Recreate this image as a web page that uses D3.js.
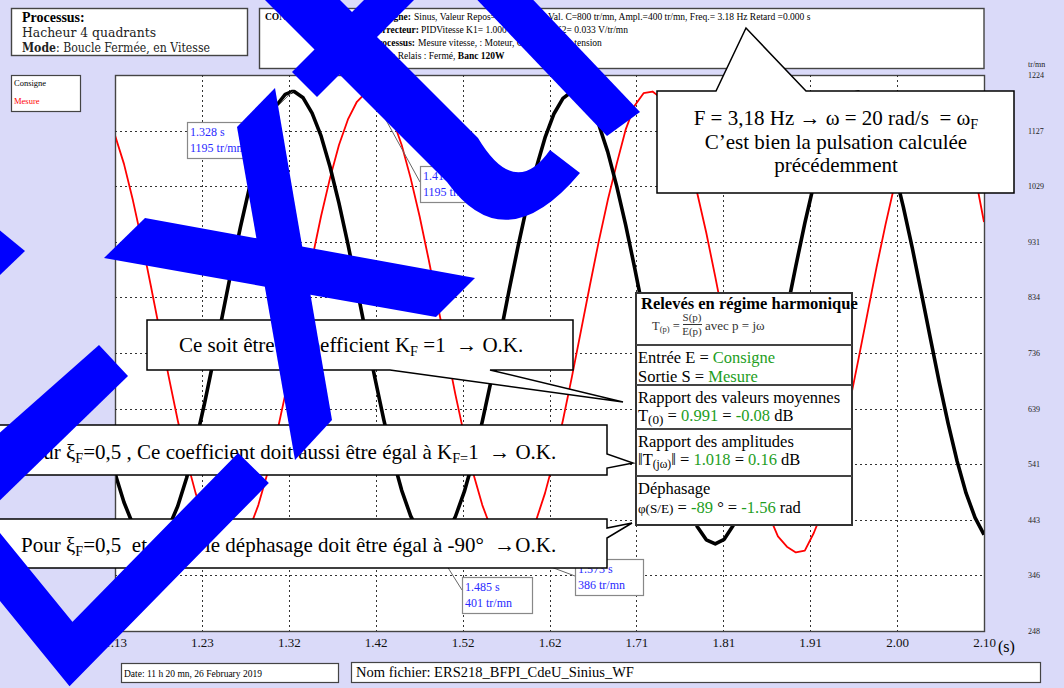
<!DOCTYPE html>
<html>
<head>
<meta charset="utf-8">
<script src="https://cdn.jsdelivr.net/npm/d3@7"></script>
<style>
  html, body { margin: 0; padding: 0; background: #dadaf9; }
  svg { display: block; }
  text { font-family: "Liberation Serif", "Times New Roman", serif; white-space: pre; }
</style>
</head>
<body>
<svg id="chart" width="1064" height="688"></svg>
<script>
// ---- axes ----
const xTickValues = [1.13, 1.227, 1.324, 1.421, 1.518, 1.615, 1.712, 1.809, 1.906, 2.003, 2.10];
const xTickLabels = ["1.13", "1.23", "1.32", "1.42", "1.52", "1.62", "1.71", "1.81", "1.91", "2.00", "2.10"];
const yTickValues = [248, 345.6, 443.2, 540.8, 638.4, 736, 833.6, 931.2, 1028.8, 1126.4, 1224];
const yTickLabels = ["248", "346", "443", "541", "639", "736", "834", "931", "1029", "1127", "1224"];

// ---- recorded speed (tr/mn), one sample every 10 ms from 1.13 s ----
const tStart = 1.13;
const tStep = 0.01;
const consigne = [
  525, 474, 435, 410, 401, 408, 430, 467, 517, 578,
  648, 724, 803, 882, 957, 1026, 1086, 1134, 1170, 1190,
  1195, 1184, 1157, 1117, 1063, 999, 927, 850, 771, 693,
  619, 552, 495, 450, 419, 403, 403, 418, 449, 493,
  549, 616, 689, 767, 847, 924, 996, 1060, 1114, 1156,
  1183, 1195, 1191, 1171, 1137, 1089, 1029, 961, 886, 807,
  728, 652, 581, 520, 469, 431, 408, 401, 409, 433,
  471, 523, 585, 656, 732, 811, 889, 964, 1032, 1091,
  1139, 1172, 1191, 1194, 1182, 1154, 1112, 1057, 992, 920,
  842, 763, 685, 612, 546, 490, 447, 417
];
const mesure = [
  1118, 1068, 1004, 932, 854, 774, 694, 618, 549, 490,
  442, 408, 389, 386, 398, 427, 469, 524, 590, 663,
  742, 822, 901, 976, 1043, 1101, 1146, 1177, 1193, 1193,
  1177, 1146, 1101, 1043, 976, 901, 822, 742, 663, 590,
  524, 469, 427, 398, 386, 389, 408, 442, 490, 549,
  618, 694, 774, 854, 932, 1004, 1068, 1128, 1170, 1192,
  1195, 1183, 1158, 1121, 1076, 1016, 947, 870, 790, 710,
  633, 563, 501, 451, 414, 396, 386, 389, 420, 459,
  512, 576, 648, 726, 806, 886, 961, 1030, 1090, 1138,
  1172, 1191, 1194, 1182, 1153, 1111, 1048, 966
];

// ---- cursor readings ----
const cursorTimes = [1.328, 1.415, 1.485, 1.573];
const cursorValues = [1195, 1195, 401, 386];
const cursorSeries = ["consigne", "mesure", "consigne", "mesure"];

// ---- harmonic analysis results ----
const meanRatio = ["0.991", "-0.08"];
const ampRatio = ["1.018", "0.16"];
const phaseShift = ["-89", "-1.56"];

const svg = d3.select("#chart");
const W = 1064, H = 688;
const plot = { left: 115, right: 984, top: 75, bottom: 631 };
const serif = '"Liberation Serif", "Times New Roman", serif';

const x = d3.scaleLinear().domain([1.13, 2.10]).range([plot.left, plot.right]);
const y = d3.scaleLinear().domain([248, 1224]).range([plot.bottom, plot.top]);

svg.append("rect").attr("width", W).attr("height", H).attr("fill", "#dadaf9");

// rich text helper: parts with optional subscript / colour / weight
function rich(sel, parts) {
  let shift = 0;
  parts.forEach(p => {
    const ts = sel.append("tspan").text(p.t);
    const want = p.sub ? (p.dy || 4) : 0;
    if (want !== shift) { ts.attr("dy", want - shift); shift = want; }
    if (p.sub) ts.attr("font-size", p.size || "0.68em");
    if (p.fill) ts.attr("fill", p.fill);
    if (p.bold) ts.attr("font-weight", "bold");
  });
  return sel;
}

// ---- header boxes ----
svg.append("rect").attr("x", 11.5).attr("y", 8.5).attr("width", 236).attr("height", 47)
  .attr("fill", "#fff").attr("stroke", "#444").attr("stroke-width", 1.4);
svg.append("text").attr("x", 22).attr("y", 22).attr("font-size", 14).attr("font-weight", "bold").text("Processus:");
svg.append("text").attr("x", 22).attr("y", 37).attr("font-size", 12.5)
  .style("font-family", '"DejaVu Serif", serif').attr("fill", "#222")
  .attr("textLength", 134).attr("lengthAdjust", "spacingAndGlyphs").text("Hacheur 4 quadrants");
rich(svg.append("text").attr("x", 22).attr("y", 52).attr("font-size", 12)
  .style("font-family", '"DejaVu Serif", serif').attr("fill", "#222")
  .attr("textLength", 188).attr("lengthAdjust", "spacingAndGlyphs"),
  [{ t: "Mode", bold: true }, { t: ": Boucle Fermée, en Vitesse" }]);

svg.append("rect").attr("x", 259.5).attr("y", 8.5).attr("width", 724.5).attr("height", 60)
  .attr("fill", "#fff").attr("stroke", "#444").attr("stroke-width", 1.4);
const hdr = svg.append("g").attr("font-size", 9.5);
hdr.append("text").attr("x", 265).attr("y", 20).attr("font-weight", "bold").text("CONSIGNE:");
hdr.append("text").attr("x", 411).attr("y", 20).attr("text-anchor", "end").attr("font-weight", "bold").text("Signe:");
hdr.append("text").attr("x", 414).attr("y", 20).text("Sinus, Valeur Repos=800 tr/mn,");
hdr.append("text").attr("x", 548).attr("y", 20).text("Val. C=800 tr/mn, Ampl.=400 tr/mn, Freq.= 3.18 Hz Retard =0.000 s");
hdr.append("text").attr("x", 419).attr("y", 33).attr("text-anchor", "end").attr("font-weight", "bold").text("Correcteur:");
hdr.append("text").attr("x", 421).attr("y", 33).text("PIDVitesse K1= 1.000 V/V,");
hdr.append("text").attr("x", 555).attr("y", 33).text("K2= 0.033 V/tr/mn");
hdr.append("text").attr("x", 415).attr("y", 46).attr("text-anchor", "end").attr("font-weight", "bold").text("Processus:");
hdr.append("text").attr("x", 418).attr("y", 46).text("Mesure vitesse, : Moteur, Commande en tension");
rich(hdr.append("text").attr("x", 368).attr("y", 59),
  [{ t: "Charge Relais : Fermé, " }, { t: "Banc 120W", bold: true }]);

// ---- legend ----
svg.append("rect").attr("x", 11.5).attr("y", 75.5).attr("width", 69).attr("height", 36)
  .attr("fill", "#fff").attr("stroke", "#444").attr("stroke-width", 1.2);
svg.append("text").attr("x", 14).attr("y", 86).attr("font-size", 8.5).text("Consigne");
svg.append("text").attr("x", 14).attr("y", 104).attr("font-size", 8.5).attr("fill", "#f00").text("Mesure");

// ---- plot frame ----
svg.append("rect").attr("x", plot.left + 0.5).attr("y", plot.top + 0.5)
  .attr("width", plot.right - plot.left).attr("height", plot.bottom - plot.top)
  .attr("fill", "#fff").attr("stroke", "#444").attr("stroke-width", 1.4);

// grid
const grid = svg.append("g").attr("stroke", "#333").attr("stroke-width", 1).attr("stroke-dasharray", "2,3");
grid.selectAll("line.v").data(xTickValues.slice(1, -1)).join("line")
  .attr("x1", d => Math.round(x(d)) + 0.5).attr("x2", d => Math.round(x(d)) + 0.5)
  .attr("y1", plot.top).attr("y2", plot.bottom);
grid.selectAll("line.h").data(yTickValues.slice(1, -1)).join("line")
  .attr("y1", d => Math.round(y(d)) + 0.5).attr("y2", d => Math.round(y(d)) + 0.5)
  .attr("x1", plot.left).attr("x2", plot.right);

// axes
const xAxis = svg.append("g").attr("transform", `translate(0,${plot.bottom})`)
  .call(d3.axisBottom(x).tickValues(xTickValues).tickFormat((d, i) => xTickLabels[i]).tickSize(0).tickPadding(7));
xAxis.select(".domain").remove();
xAxis.selectAll("text").style("font-family", serif).attr("font-size", 13).attr("fill", "#111");
svg.append("text").attr("x", 998).attr("y", 652).attr("font-size", 16).text("(s)");

const yAxis = svg.append("g").attr("transform", "translate(1027,0)")
  .call(d3.axisRight(y).tickValues(yTickValues).tickFormat((d, i) => yTickLabels[i]).tickSize(0).tickPadding(1));
yAxis.select(".domain").remove();
yAxis.selectAll("text").style("font-family", serif).attr("font-size", 8).attr("fill", "#222");
svg.append("text").attr("x", 1028).attr("y", 67).attr("font-size", 8).attr("fill", "#222").text("tr/mn");

// ---- series ----
function series(values, name) {
  const pts = values.map((v, i) => ({ t: +(tStart + i * tStep).toFixed(3), v }));
  cursorTimes.forEach((t, i) => { if (cursorSeries[i] === name) pts.push({ t, v: cursorValues[i] }); });
  return pts.sort((a, b) => a.t - b.t);
}
svg.append("clipPath").attr("id", "plotClip").append("rect")
  .attr("x", plot.left + 1).attr("y", plot.top + 1)
  .attr("width", plot.right - plot.left - 1).attr("height", plot.bottom - plot.top - 1);
const line = d3.line().x(d => x(d.t)).y(d => y(d.v));
const curves = svg.append("g").attr("clip-path", "url(#plotClip)").attr("fill", "none");
curves.append("path").datum(series(mesure, "mesure")).attr("d", line)
  .attr("stroke", "#ff0000").attr("stroke-width", 1.8).attr("stroke-linejoin", "round");
curves.append("path").datum(series(consigne, "consigne")).attr("d", line)
  .attr("stroke", "#000").attr("stroke-width", 3.6).attr("stroke-linejoin", "round");

// ---- cursor tags ----
const tagBoxes = [
  { x: 187, y: 122, w: 63, h: 36, lx: 262, ly: 122 },
  { x: 420, y: 166, w: 62, h: 36, lx: 420, ly: 182 },
  { x: 462, y: 577, w: 70, h: 36, lx: 462, ly: 590 },
  { x: 575, y: 559, w: 68, h: 36, lx: 575, ly: 576 }
];
const tags = svg.append("g");
cursorTimes.forEach((t, i) => {
  const b = tagBoxes[i];
  tags.append("line").attr("x1", b.lx).attr("y1", b.ly)
    .attr("x2", x(t)).attr("y2", y(cursorValues[i]))
    .attr("stroke", "#666").attr("stroke-width", 1);
  tags.append("rect").attr("x", b.x + 0.5).attr("y", b.y + 0.5).attr("width", b.w).attr("height", b.h)
    .attr("fill", "#fff").attr("stroke", "#888").attr("stroke-width", 1.2);
  tags.append("text").attr("x", b.x + 3).attr("y", b.y + 14).attr("font-size", 12).attr("fill", "#2a2aff")
    .text(t.toFixed(3) + " s");
  tags.append("text").attr("x", b.x + 3).attr("y", b.y + 30).attr("font-size", 12).attr("fill", "#2a2aff")
    .text(cursorValues[i] + " tr/mn");
});

// ---- harmonic results panel ----
const green = "#1e9e1e";
const panel = svg.append("g");
panel.append("rect").attr("x", 636).attr("y", 293).attr("width", 216).attr("height", 232)
  .attr("fill", "#fff").attr("stroke", "#333").attr("stroke-width", 2);
[345, 385, 429, 476].forEach(yy => panel.append("line").attr("x1", 636).attr("x2", 852)
  .attr("y1", yy).attr("y2", yy).attr("stroke", "#444").attr("stroke-width", 2));
panel.append("text").attr("x", 641).attr("y", 309).attr("font-size", 16.5).attr("font-weight", "bold")
  .text("Relevés en régime harmonique");
rich(panel.append("text").attr("x", 652).attr("y", 330).attr("font-size", 12.5).attr("fill", "#333"),
  [{ t: "T" }, { t: "(p)", sub: true, dy: 2 }, { t: " =" }]);
panel.append("text").attr("x", 692).attr("y", 321).attr("text-anchor", "middle").attr("font-size", 11).attr("fill", "#333").text("S(p)");
panel.append("line").attr("x1", 683).attr("x2", 702).attr("y1", 324.5).attr("y2", 324.5).attr("stroke", "#333");
panel.append("text").attr("x", 692).attr("y", 335).attr("text-anchor", "middle").attr("font-size", 11).attr("fill", "#333").text("E(p)");
panel.append("text").attr("x", 705).attr("y", 330).attr("font-size", 13).attr("fill", "#333").text("avec p = jω");

const pf = 16.5;
rich(panel.append("text").attr("x", 638).attr("y", 363).attr("font-size", pf),
  [{ t: "Entrée E = " }, { t: "Consigne", fill: green }]);
rich(panel.append("text").attr("x", 638).attr("y", 382).attr("font-size", pf),
  [{ t: "Sortie S = " }, { t: "Mesure", fill: green }]);
panel.append("text").attr("x", 638).attr("y", 403).attr("font-size", pf).text("Rapport des valeurs moyennes");
rich(panel.append("text").attr("x", 638).attr("y", 421).attr("font-size", pf),
  [{ t: "T" }, { t: "(0)", sub: true, dy: 3, size: "0.8em" }, { t: " = " }, { t: meanRatio[0], fill: green },
   { t: " = " }, { t: meanRatio[1], fill: green }, { t: " dB" }]);
panel.append("text").attr("x", 638).attr("y", 447).attr("font-size", pf).text("Rapport des amplitudes");
rich(panel.append("text").attr("x", 638).attr("y", 465).attr("font-size", pf),
  [{ t: "‖T" }, { t: "(jω)", sub: true, dy: 3, size: "0.7em" }, { t: "‖ = " }, { t: ampRatio[0], fill: green },
   { t: " = " }, { t: ampRatio[1], fill: green }, { t: " dB" }]);
panel.append("text").attr("x", 638).attr("y", 494).attr("font-size", pf).text("Déphasage");
rich(panel.append("text").attr("x", 638).attr("y", 513).attr("font-size", pf),
  [{ t: "φ(S/E)", size: "0.8em", sub: true, dy: 0.01 }, { t: " = " }, { t: phaseShift[0], fill: green },
   { t: " ° = " }, { t: phaseShift[1], fill: green }, { t: " rad" }]);

// ---- speech-bubble comments ----
const bubbles = svg.append("g").attr("fill", "#fff").attr("stroke", "#000").attr("stroke-width", 1.5);
bubbles.append("path").attr("d", "M657,91 H716 L746,28 L806,91 H1014 V193 H657 Z");
bubbles.append("path").attr("d", "M147,320 H573 V370 H490 L623,402 L390,370 H147 Z");
bubbles.append("path").attr("d", "M-3,425 H607 V454 L633,463 L607,468 V475 H-3 Z");
bubbles.append("path").attr("d", "M-3,519 H607 V528 L632,523 L607,538 V568 H-3 Z");

const bf = 21;
rich(svg.append("text").attr("x", 836).attr("y", 125).attr("text-anchor", "middle").attr("font-size", bf),
  [{ t: "F = 3,18 Hz → ω = 20 rad/s  = ω" }, { t: "F", sub: true }]);
svg.append("text").attr("x", 836).attr("y", 149).attr("text-anchor", "middle").attr("font-size", bf)
  .text("C’est bien la pulsation calculée");
svg.append("text").attr("x", 836).attr("y", 172).attr("text-anchor", "middle").attr("font-size", bf)
  .text("précédemment");
rich(svg.append("text").attr("x", 179).attr("y", 352).attr("font-size", bf),
  [{ t: "Ce soit être le coefficient K" }, { t: "F", sub: true }, { t: " =1  → O.K." }]);
rich(svg.append("text").attr("x", 21).attr("y", 459).attr("font-size", bf),
  [{ t: "Pour ξ" }, { t: "F", sub: true }, { t: "=0,5 , Ce coefficient doit aussi être égal à K" },
   { t: "F=", sub: true }, { t: "1  → O.K." }]);
rich(svg.append("text").attr("x", 21).attr("y", 552).attr("font-size", bf),
  [{ t: "Pour ξ" }, { t: "F", sub: true }, { t: "=0,5  et ω=ω" }, { t: "F", sub: true },
   { t: " le déphasage doit être égal à -90°  →O.K." }]);

// ---- footer ----
svg.append("rect").attr("x", 121.5).attr("y", 663.5).attr("width", 217).attr("height", 19)
  .attr("fill", "#fff").attr("stroke", "#444").attr("stroke-width", 1.2);
svg.append("text").attr("x", 124).attr("y", 677).attr("font-size", 9.5).text("Date: 11 h 20 mn, 26 February 2019");
svg.append("rect").attr("x", 351.5).attr("y", 662.5).attr("width", 689).attr("height", 20)
  .attr("fill", "#fff").attr("stroke", "#444").attr("stroke-width", 1.2);
svg.append("text").attr("x", 356).attr("y", 677).attr("font-size", 14.5).text("Nom fichier: ERS218_BFPI_CdeU_Sinius_WF");

// ---- hand-drawn blue correction marks (drawn last, over everything) ----
const ink = svg.append("g").attr("fill", "#0000ff");
ink.append("path").attr("d", "M237,127 L275,88 L332,420 L295,460 Z");
ink.append("path").attr("d", "M104,258 L145,218 L475,278 L436,317 Z");
ink.append("path").attr("d", "M99,345 L128,376 L-5,505 L-5,437 Z");
ink.append("path").attr("d", "M-3,228 L25,251 L-3,278 Z");
ink.append("path").attr("d", "M292,72 L317,97 L420,-6 L378,-14 Z");
ink.append("path").attr("d", "M245,-20 L320,-20 L478,138 Q515,200 550,150 L580,173 Q505,262 447,182 Z");
ink.append("path").attr("d", "M464,-14 L520,-14 L640,112 L607,136 Z");
ink.append("path").attr("d", "M-40,518 L71,654 L253.5,468")
  .attr("fill", "none").attr("stroke", "#0000ff").attr("stroke-width", 43).attr("stroke-linejoin", "miter");
</script>
</body>
</html>
